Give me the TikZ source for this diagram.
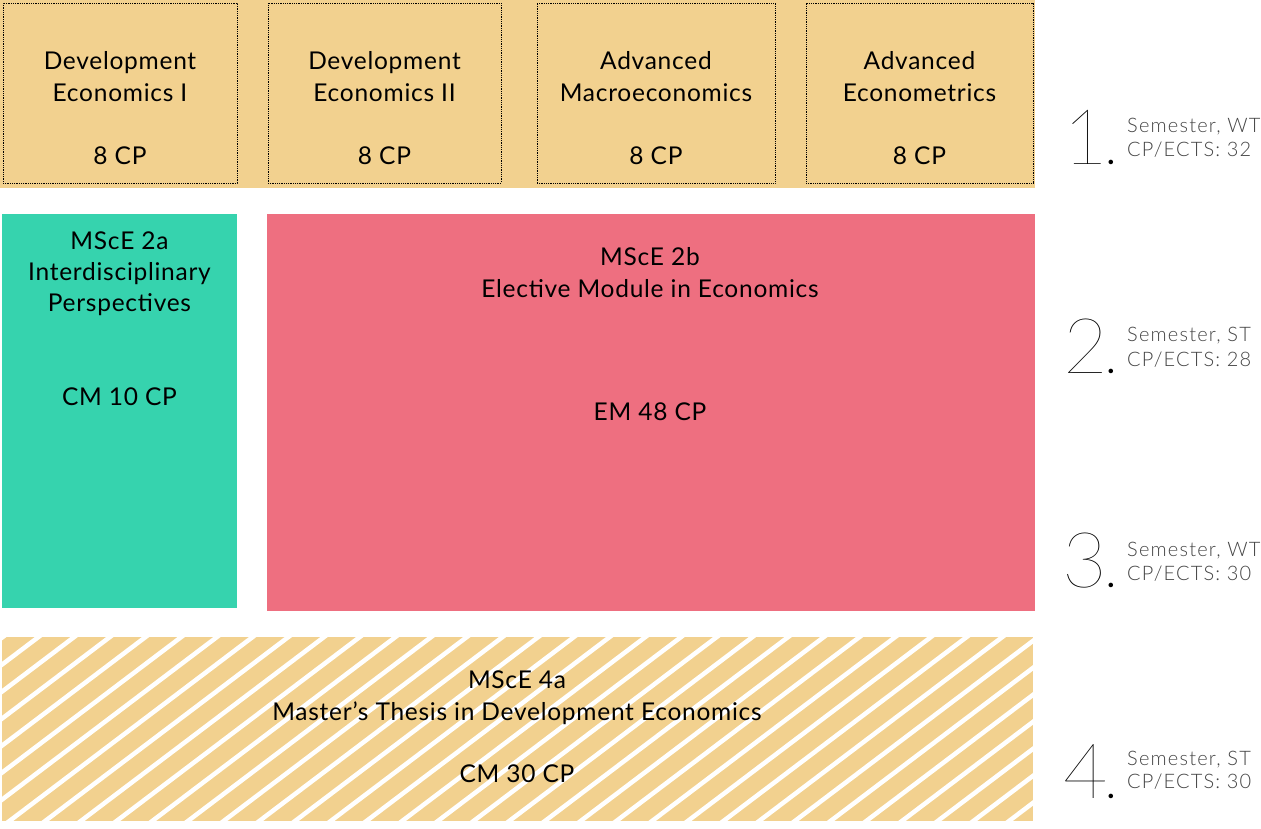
\documentclass[tikz,border=0pt]{standalone}
\usepackage{fontspec}
\setmainfont{Lato}
\newfontfamily\lbfont{Lato}[LetterSpace=3.0]
\newfontfamily\latolight{Lato Light}[LetterSpace=6.0]
\newfontfamily\latohair{Lato Hairline}
\definecolor{gold}{HTML}{F2D18F}
\definecolor{teal}{HTML}{36D3AE}
\definecolor{rose}{HTML}{EE6F80}
\definecolor{semgray}{HTML}{444444}
\tikzset{
  area/.style={inner sep=0, outer sep=0, draw=none},
  coursebox/.style={inner sep=0, outer sep=0, draw=black, densely dotted, line width=0.8pt},
  lbl/.style={anchor=base, inner sep=0, font=\lbfont\fontsize{24.5}{28}\selectfont},
  semnum/.style={anchor=base east, inner sep=0, font=\latohair\fontsize{77}{80}\selectfont},
  semdot/.style={anchor=base, inner sep=0, font=\bfseries\fontsize{30}{30}\selectfont},
  semtxt/.style={anchor=base west, inner sep=0, text=semgray, font=\latolight\fontsize{20}{24}\selectfont},
}
\begin{document}
\begin{tikzpicture}[x=1pt,y=-1pt]
\useasboundingbox (0,0) rectangle (1261,828);
% semester 1 band
\node[area, fill=gold, minimum width=1035pt, minimum height=188pt] (band) at (517.5,94) {};
\node[coursebox, minimum width=234pt, minimum height=180pt] (c1) at (120,93) {};
\node[coursebox, minimum width=233pt, minimum height=180pt] (c2) at (384.5,93) {};
\node[coursebox, minimum width=238pt, minimum height=180pt] (c3) at (656,93) {};
\node[coursebox, minimum width=227pt, minimum height=180pt] (c4) at (919.5,93) {};
\node[lbl] (c1a) at (120,69.5) {Development};
\node[lbl] (c1b) at (120,101.5) {Economics I};
\node[lbl] (c1c) at (120,164) {8 CP};
\node[lbl] (c2a) at (384.5,69.5) {Development};
\node[lbl] (c2b) at (384.5,101.5) {Economics II};
\node[lbl] (c2c) at (384.5,164) {8 CP};
\node[lbl] (c3a) at (656,69.5) {Advanced};
\node[lbl] (c3b) at (656,101.5) {Macroeconomics};
\node[lbl] (c3c) at (656,164) {8 CP};
\node[lbl] (c4a) at (919.5,69.5) {Advanced};
\node[lbl] (c4b) at (919.5,101.5) {Econometrics};
\node[lbl] (c4c) at (919.5,164) {8 CP};
% MScE 2a
\node[area, fill=teal, minimum width=235pt, minimum height=394pt] (m2a) at (119.5,411) {};
\node[lbl] (m2a1) at (119.5,249) {MScE 2a};
\node[lbl] (m2a2) at (119.5,280) {Interdisciplinary};
\node[lbl] (m2a3) at (119.5,311) {Perspectives};
\node[lbl] (m2a4) at (119.5,405) {CM 10 CP};
% MScE 2b
\node[area, fill=rose, minimum width=768pt, minimum height=397pt] (m2b) at (651,412.5) {};
\node[lbl] (m2b1) at (650,265) {MScE 2b};
\node[lbl] (m2b2) at (650,297) {Elective Module in Economics};
\node[lbl] (m2b3) at (650,420) {EM 48 CP};
% MScE 4a hatched
\node[area, fill=gold, minimum width=1031pt, minimum height=184pt] (m4a) at (517.5,729) {};
\begin{scope}
  \clip (m4a.south west) rectangle (m4a.north east);
  \foreach \k in {-2,...,37}{
    \pgfmathsetmacro{\xx}{38.5+35.7*\k}
    \draw[white, line width=4.5pt] ({\xx+26.4},617) -- ({\xx-264.4},837);
  }
\end{scope}
\node[lbl] (m4a1) at (517,688) {MScE 4a};
\node[lbl] (m4a2) at (517,720) {Master’s Thesis in Development Economics};
\node[lbl] (m4a3) at (517,782) {CM 30 CP};
% semester labels
\node[semnum] (s1) at (1108,164.5) {1};
\node[semdot] (s1d) at (1111,164.5) {.};
\node[semtxt] (s1a) at (1127,132) {Semester, WT};
\node[semtxt] (s1b) at (1127,156) {CP/ECTS: 32};
\node[semnum] (s2) at (1108,373.5) {2};
\node[semdot] (s2d) at (1111,373.5) {.};
\node[semtxt] (s2a) at (1127,341) {Semester, ST};
\node[semtxt] (s2b) at (1127,366) {CP/ECTS: 28};
\node[semnum] (s3) at (1107,587.5) {3};
\node[semdot] (s3d) at (1111,587.5) {.};
\node[semtxt] (s3a) at (1127,556) {Semester, WT};
\node[semtxt] (s3b) at (1127,580) {CP/ECTS: 30};
\node[semnum] (s4) at (1108,798) {4};
\node[semdot] (s4d) at (1111,798) {.};
\node[semtxt] (s4a) at (1127,765) {Semester, ST};
\node[semtxt] (s4b) at (1127,788) {CP/ECTS: 30};
\end{tikzpicture}
\end{document}
